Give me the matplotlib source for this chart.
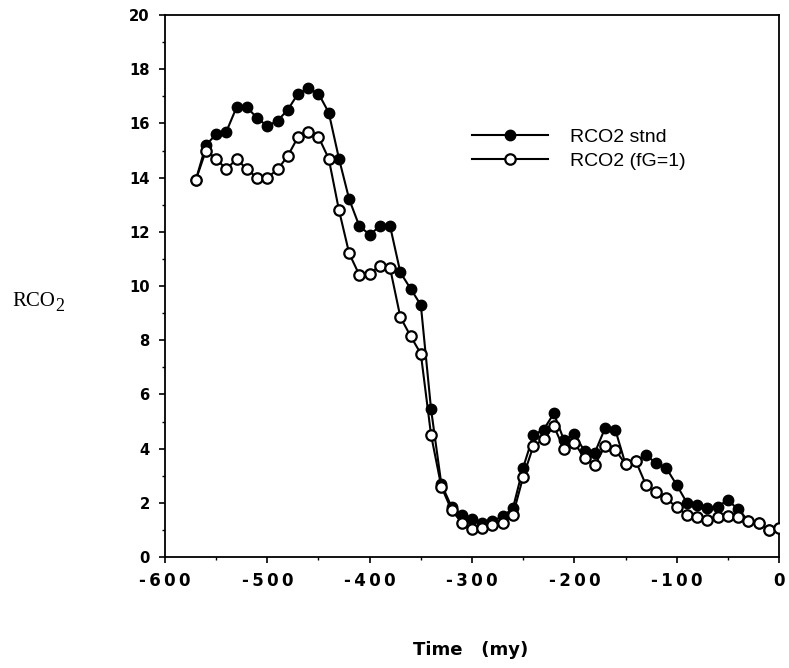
import matplotlib
matplotlib.use("Agg")
import matplotlib.pyplot as plt
from matplotlib.ticker import MultipleLocator

# Time (my)
time = [-570, -560, -550, -540, -530, -520, -510, -500, -490, -480,
        -470, -460, -450, -440, -430, -420, -410, -400, -390, -380,
        -370, -360, -350, -340, -330, -320, -310, -300, -290, -280,
        -270, -260, -250, -240, -230, -220, -210, -200, -190, -180,
        -170, -160, -150, -140, -130, -120, -110, -100, -90, -80,
        -70, -60, -50, -40, -30, -20, -10, 0]

rco2_stnd = [13.9, 15.2, 15.6, 15.7, 16.6, 16.6, 16.2, 15.9, 16.1, 16.5,
             17.1, 17.3, 17.1, 16.4, 14.7, 13.2, 12.2, 11.9, 12.2, 12.2,
             10.5, 9.9, 9.3, 5.45, 2.7, 1.85, 1.55, 1.4, 1.27, 1.33,
             1.5, 1.8, 3.3, 4.5, 4.7, 5.3, 4.3, 4.55, 3.9, 3.85,
             4.75, 4.7, 3.43, 3.54, 3.76, 3.46, 3.27, 2.66, 2.0, 1.92,
             1.8, 1.86, 2.1, 1.76, 1.34, 1.27, 1.0, 1.06]

rco2_fg1 = [13.9, 15.0, 14.7, 14.3, 14.7, 14.3, 14.0, 14.0, 14.3, 14.8,
            15.5, 15.7, 15.5, 14.7, 12.8, 11.2, 10.4, 10.45, 10.75, 10.65,
            8.85, 8.15, 7.5, 4.5, 2.6, 1.73, 1.27, 1.02, 1.06, 1.18,
            1.27, 1.55, 2.96, 4.1, 4.34, 4.83, 3.97, 4.22, 3.64, 3.39,
            4.1, 3.95, 3.43, 3.54, 2.66, 2.41, 2.16, 1.83, 1.55, 1.49,
            1.37, 1.49, 1.51, 1.46, 1.34, 1.27, 1.0, 1.06]

x_ticks = [-600, -500, -400, -300, -200, -100, 0]
x_tick_labels = ["-600", "-500", "-400", "-300", "-200", "-100", "0"]
y_ticks = list(range(0, 21, 2))

fig = plt.figure(figsize=(7.89, 6.68), dpi=100)
ax = fig.add_axes([165/789, 1 - 557/668, (779 - 165)/789, (557 - 15)/668])

ax.plot(time, rco2_stnd, color="black", lw=1.5, marker="o", ms=7.5,
        mfc="black", mec="black", label="RCO2 stnd", zorder=2)
ax.plot(time, rco2_fg1, color="black", lw=1.5, marker="o", ms=7.5,
        mfc="white", mec="black", mew=1.6, label="RCO2 (fG=1)", zorder=3)

ax.set_xlim(-600, 0)
ax.set_ylim(0, 20)
ax.set_xticks(x_ticks)
# letter-spaced labels like the original
ax.set_xticklabels(["\u2009".join(s) for s in x_tick_labels])
ax.xaxis.set_minor_locator(MultipleLocator(50))
ax.set_yticks(y_ticks)
ax.yaxis.set_minor_locator(MultipleLocator(1))

for lab in ax.get_xticklabels():
    lab.set_fontfamily("DejaVu Sans")
    lab.set_fontweight("bold")
    lab.set_fontsize(12)
for lab in ax.get_yticklabels():
    lab.set_fontfamily("DejaVu Sans")
    lab.set_fontweight("bold")
    lab.set_fontsize(10.6)

ax.tick_params(axis="both", which="major", direction="out", length=4, width=1.2)
ax.tick_params(axis="both", which="minor", direction="out", length=2.5, width=1.0)
ax.tick_params(axis="x", which="major", pad=7)
ax.tick_params(axis="y", which="major", pad=7)
for s in ax.spines.values():
    s.set_linewidth(1.3)

fig.text(471/789, 1 - 650/668, "Time   (my)", ha="center", va="center",
         fontsize=13, fontweight="bold", family="DejaVu Sans")

t = fig.text(12/789, 1 - 306/668, "RCO", ha="left", va="baseline",
             fontsize=15, family="Liberation Serif")
ax.annotate("2", xy=(1, 0), xycoords=t, xytext=(0.5, -3), textcoords="offset points",
            ha="left", va="bottom", fontsize=13, family="Liberation Serif",
            annotation_clip=False)

leg = ax.legend(loc="upper left", bbox_to_anchor=((472 - 165)/614, 1 - (128 - 15)/542),
                frameon=False, handlelength=3.9, handletextpad=1.15,
                labelspacing=0.36, prop={"family": "Liberation Sans", "size": 14},
                borderaxespad=0, borderpad=0)

fig.savefig("out.png", dpi=100)
